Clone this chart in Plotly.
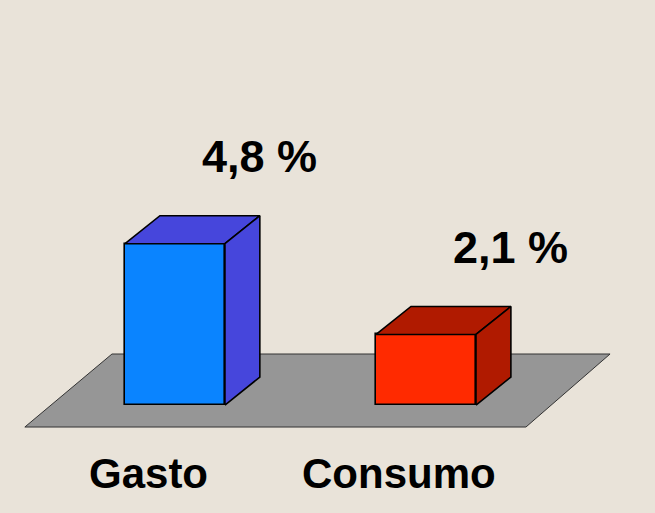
import plotly.graph_objects as go

# ---- data ----
categories = ["Gasto", "Consumo"]
values = [4.8, 2.1]
value_labels = ["4,8 %", "2,1 %"]

# ---- style ----
front_colors = ["#0A84FF", "#FF2A00"]
shade_colors = ["#4646DC", "#B01A00"]
BAR_W = 0.398          # bar width in category units
DX = 0.139             # depth offset (x, category units)
DY = 0.833             # depth offset (y, value units)
BG = "#E9E3D9"
FONT = "Liberation Sans, Arial, sans-serif"

xpos = list(range(len(categories)))

fig = go.Figure()

# side and top faces computed from the data values
for i, v in zip(xpos, values):
    l, r = i - BAR_W / 2, i + BAR_W / 2
    fig.add_trace(go.Scatter(
        x=[l, l + DX, r + DX, r, l], y=[v, v + DY, v + DY, v, v],
        fill="toself", fillcolor=shade_colors[i], mode="lines",
        line=dict(color="black", width=1.6), hoverinfo="skip", showlegend=False))
    fig.add_trace(go.Scatter(
        x=[r, r + DX, r + DX, r, r], y=[0, DY, v + DY, v, 0],
        fill="toself", fillcolor=shade_colors[i], mode="lines",
        line=dict(color="black", width=1.6), hoverinfo="skip", showlegend=False))

# front faces
fig.add_trace(go.Bar(
    x=xpos, y=values, width=BAR_W,
    marker=dict(color=front_colors, line=dict(color="black", width=1.6)),
    showlegend=False, hoverinfo="skip"))

# floor (below traces)
fl_y0, fl_y1 = -0.655, 1.518
fig.add_shape(type="path",
              path=f"M -0.598 {fl_y0} L 1.398 {fl_y0} L 1.733 {fl_y1} L -0.251 {fl_y1} Z",
              fillcolor="#969696", line=dict(color="#333333", width=1),
              layer="below", xref="x", yref="y")

# value labels
for i, v in zip(xpos, values):
    fig.add_annotation(x=i + 0.338, y=v + 2.6, text=f"<b>{value_labels[i]}</b>",
                       showarrow=False, font=dict(family=FONT, size=45, color="black"),
                       xanchor="center", yanchor="middle")

# category labels
for i, c in zip(xpos, categories):
    fig.add_annotation(x=i - 0.106, y=-2.05, text=f"<b>{c}</b>",
                       showarrow=False, font=dict(family=FONT, size=42, color="black"),
                       xanchor="center", yanchor="middle")

fig.update_xaxes(range=[-0.697, 1.912], visible=False, fixedrange=True)
fig.update_yaxes(range=[-3.214, 12.054], visible=False, fixedrange=True)
fig.update_layout(width=655, height=513, margin=dict(l=0, r=0, t=0, b=0),
                  paper_bgcolor=BG, plot_bgcolor=BG, bargap=0)

fig.write_html("out.html", config={"displayModeBar": False},
               post_script="document.body.style.margin='0';document.body.style.overflow='hidden';")
